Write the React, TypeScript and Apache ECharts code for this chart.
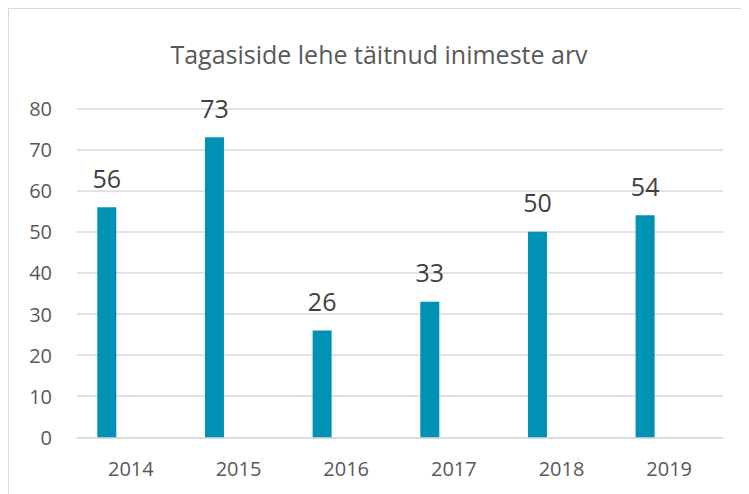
import React, { useEffect, useRef } from "react";
import * as echarts from "echarts";

const categories = ["2014", "2015", "2016", "2017", "2018", "2019"];
const values = [56, 73, 26, 33, 50, 54];
const yTicks = { min: 0, max: 80, interval: 10 };
const titleText = "Tagasiside lehe täitnud inimeste arv";

export default function App() {
  const ref = useRef<HTMLDivElement>(null);
  useEffect(() => {
    if (!ref.current) return;
    const chart = echarts.init(ref.current, null, { renderer: "svg" });
    const font = "'Open Sans', sans-serif";
    chart.setOption({
      animation: false,
      title: {
        text: titleText,
        left: "center",
        top: 27,
        textStyle: { fontFamily: font, fontSize: 25, fontWeight: "normal", color: "#595959" },
      },
      grid: { left: 68, right: 26, top: 99.5, bottom: 56.7, containLabel: false },
      xAxis: {
        type: "category",
        data: categories,
        axisLine: { show: true, lineStyle: { color: "#d9d9d9", width: 1.5 } },
        axisTick: { show: false },
        axisLabel: { fontFamily: font, fontSize: 20, color: "#595959", margin: 21 },
      },
      yAxis: {
        type: "value",
        min: yTicks.min,
        max: yTicks.max,
        interval: yTicks.interval,
        axisLine: { show: false },
        axisTick: { show: false },
        splitLine: { lineStyle: { color: "#d9d9d9", width: 1.5 } },
        axisLabel: { fontFamily: font, fontSize: 20, color: "#595959", margin: 25 },
      },
      series: [
        {
          type: "bar",
          data: values,
          barWidth: 19,
          barGap: "153%",
          itemStyle: { color: "#0092B5" },
          label: {
            show: true,
            position: "top",
            distance: 17,
            fontFamily: font,
            fontSize: 25,
            color: "#404040",
          },
        },
        {
          type: "bar",
          data: categories.map(() => null),
          barWidth: 19,
        },
      ],
    });
    return () => chart.dispose();
  }, []);
  return (
    <div style={{ borderLeft: "1px solid #d9d9d9", borderTop: "1px solid #d9d9d9", width: 740, height: 485 }}>
      <div ref={ref} style={{ width: 740, height: 485 }} />
    </div>
  );
}
